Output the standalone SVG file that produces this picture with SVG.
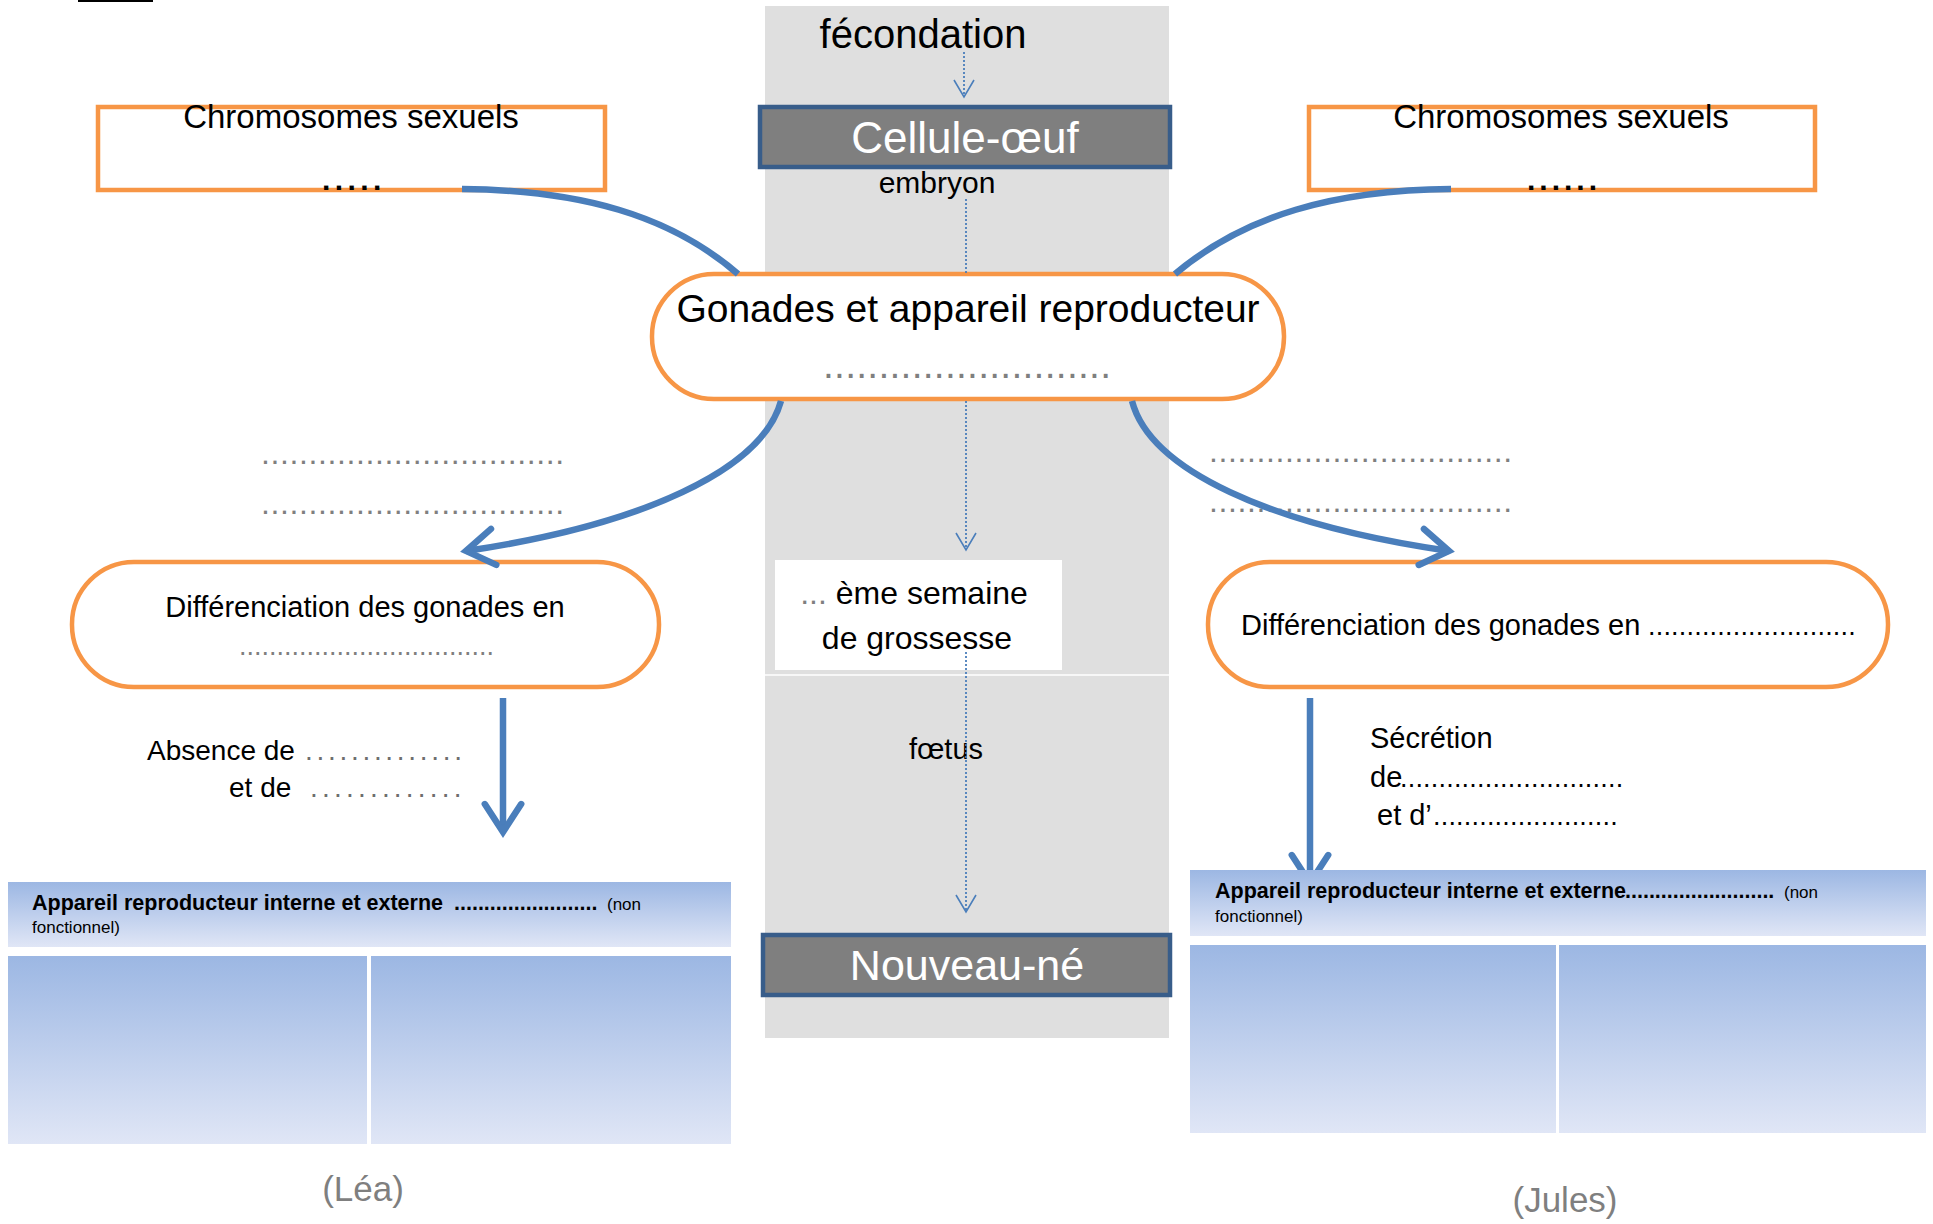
<svg xmlns="http://www.w3.org/2000/svg" width="1933" height="1224" viewBox="0 0 1933 1224">
<defs>
<style>
text { font-family: "Liberation Sans", Arial, sans-serif; fill: #000; }
.orange { fill: #fff; stroke: #F79646; stroke-width: 4.5; }
.dark { fill: #7F7F7F; stroke: #385D8A; stroke-width: 4.5; }
.blue { fill: none; stroke: #4A7EBB; stroke-width: 6.5; }
.dotted { fill: none; stroke: #4A7EBB; stroke-width: 1.8; stroke-dasharray: 2 2; }
.panel { fill: url(#grad); }
.gray { fill: #7F7F7F; }
.white { fill: #fff; }
.b { font-weight: bold; }
</style>
<linearGradient id="grad" x1="0" y1="0" x2="0" y2="1">
<stop offset="0" stop-color="#9CB7E3"/>
<stop offset="1" stop-color="#E0E6F6"/>
</linearGradient>
<marker id="chev" markerUnits="strokeWidth" viewBox="-6 -4 7 8" markerWidth="7" markerHeight="8" refX="0" refY="0" orient="auto">
<path d="M-4.3,-2.8 L0,0 L-4.3,2.8" fill="none" stroke="#4A7EBB" stroke-width="1" stroke-linecap="round" stroke-linejoin="miter"/>
</marker>
<marker id="vee" markerUnits="userSpaceOnUse" viewBox="-19 -12 21 24" markerWidth="21" markerHeight="24" refX="0" refY="0" orient="auto">
<path d="M-17,-10 L0,0 L-17,10" fill="none" stroke="#4A7EBB" stroke-width="1.6"/>
</marker>
<clipPath id="aboveHeader"><rect x="0" y="0" width="1933" height="870"/></clipPath>
</defs>

<rect x="0" y="0" width="1933" height="1224" fill="#fff"/>
<rect x="78" y="0" width="75" height="2" fill="#000"/>

<g id="timeline-column">
<rect x="765" y="6" width="404" height="1032" fill="#DFDFDF"/>
<line x1="765" y1="675" x2="1169" y2="675" stroke="#fff" stroke-width="1.5"/>
</g>

<g id="fecondation">
<text x="923" y="48" font-size="40" text-anchor="middle">fécondation</text>
</g>

<g id="cellule-oeuf">
<rect class="dark" x="760" y="107" width="410" height="60"/>
<text class="white" x="965" y="153" font-size="44" text-anchor="middle">Cellule-œuf</text>
</g>

<g id="embryon">
<text x="937" y="193" font-size="30" text-anchor="middle">embryon</text>
</g>

<g id="chromosomes-left">
<rect class="orange" x="98" y="107" width="507" height="83"/>
<text x="351" y="128" font-size="33" text-anchor="middle">Chromosomes sexuels</text>
<text class="b" x="322" y="190" font-size="30" letter-spacing="4.4">.....</text>
</g>

<g id="chromosomes-right">
<rect class="orange" x="1309" y="107" width="506" height="83"/>
<text x="1561" y="128" font-size="33" text-anchor="middle">Chromosomes sexuels</text>
<text class="b" x="1527" y="190" font-size="30" letter-spacing="4.0">......</text>
</g>

<g id="gonades">
<rect class="orange" x="652" y="274" width="632" height="125" rx="62" ry="62"/>
<text x="968" y="322" font-size="39" text-anchor="middle">Gonades et appareil reproducteur</text>
<text class="gray" x="823" y="378" font-size="39" letter-spacing="0.25">..........................</text>
</g>

<g id="labels-left">
<text class="gray" x="261" y="464" font-size="32" letter-spacing="0.6">................................</text>
<text class="gray" x="261" y="514" font-size="32" letter-spacing="0.6">................................</text>
</g>

<g id="labels-right">
<text class="gray" x="1209" y="462" font-size="32" letter-spacing="0.6">................................</text>
<text class="gray" x="1209" y="512" font-size="32" letter-spacing="0.6">................................</text>
</g>

<g id="differenciation-left">
<rect class="orange" x="72" y="562" width="587" height="125" rx="62" ry="62"/>
<text x="365" y="617" font-size="29" text-anchor="middle">Différenciation des gonades en</text>
<text class="gray" x="239" y="655" font-size="27">..................................</text>
</g>

<g id="differenciation-right">
<rect class="orange" x="1208" y="562" width="680" height="125" rx="62" ry="62"/>
<text x="1241" y="635" font-size="29">Différenciation des gonades en <tspan x="1648" font-size="27" letter-spacing="0.2">...........................</tspan></text>
</g>

<g id="semaine">
<rect x="775" y="560" width="287" height="110" fill="#fff"/>
<text x="914" y="604" font-size="32" text-anchor="middle"><tspan fill="#7F7F7F">...</tspan> ème semaine</text>
<text x="917" y="649" font-size="32" text-anchor="middle">de grossesse</text>
</g>

<g id="foetus">
<text x="946" y="759" font-size="29" text-anchor="middle">fœtus</text>
</g>

<g id="absence">
<text x="147" y="760" font-size="28">Absence de <tspan x="305" fill="#6E6E6E" letter-spacing="3.7">..............</tspan></text>
<text x="229" y="797" font-size="28">et de <tspan x="310" fill="#6E6E6E" letter-spacing="4.2">.............</tspan></text>
</g>

<g id="secretion">
<text x="1370" y="748" font-size="29">Sécrétion</text>
<text x="1370" y="787" font-size="29">de<tspan x="1400" font-size="27" letter-spacing="0.2">.............................</tspan></text>
<text x="1377" y="825" font-size="29">et d’<tspan x="1433" font-size="27" letter-spacing="0.2">........................</tspan></text>
</g>

<g id="nouveau-ne">
<rect class="dark" x="763" y="935" width="407" height="60"/>
<text class="white" x="967" y="980" font-size="43" text-anchor="middle">Nouveau-né</text>
</g>

<g id="connectors">
<path class="blue" d="M462,189 C580,190 670,215 738,274"/>
<path class="blue" d="M1451,189 C1335,190 1245,215 1175,274"/>
<path class="blue" d="M781,401 C762,470 642,525 466,551" marker-end="url(#chev)"/>
<path class="blue" d="M1132,401 C1150,470 1270,525 1449,551" marker-end="url(#chev)"/>
<path class="blue" d="M503,698 L503,832" marker-end="url(#chev)"/>
<path class="blue" d="M1310,698 L1310,883" marker-end="url(#chev)" clip-path="url(#aboveHeader)"/>
<path class="dotted" d="M964,52 L964,97" marker-end="url(#vee)"/>
<path class="dotted" d="M966,199 L966,274"/>
<path class="dotted" d="M966,401 L966,550" marker-end="url(#vee)"/>
<path class="dotted" d="M966,652 L966,912" marker-end="url(#vee)"/>
</g>

<g id="appareil-left">
<rect class="panel" x="8" y="882" width="723" height="65"/>
<text x="32" y="910" font-size="21.5"><tspan class="b">Appareil reproducteur interne et externe</tspan><tspan x="454" class="b">........................</tspan><tspan x="607" font-size="17">(non</tspan></text>
<text x="32" y="933" font-size="17">fonctionnel)</text>
<rect class="panel" x="8" y="956" width="359" height="188"/>
<rect class="panel" x="371" y="956" width="360" height="188"/>
<text class="gray" x="363" y="1201" font-size="35" text-anchor="middle">(Léa)</text>
</g>

<g id="appareil-right">
<rect class="panel" x="1190" y="870" width="736" height="66"/>
<text x="1215" y="898" font-size="21.5"><tspan class="b">Appareil reproducteur interne et externe</tspan><tspan x="1625" class="b">.........................</tspan><tspan x="1784" font-size="17">(non</tspan></text>
<text x="1215" y="922" font-size="17">fonctionnel)</text>
<rect class="panel" x="1190" y="945" width="366" height="188"/>
<rect class="panel" x="1559" y="945" width="367" height="188"/>
<text class="gray" x="1565" y="1212" font-size="35" text-anchor="middle">(Jules)</text>
</g>
</svg>
